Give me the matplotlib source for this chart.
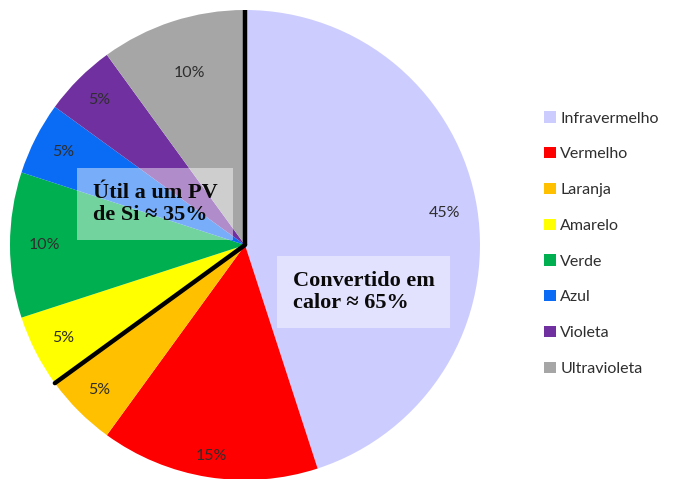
import numpy as np
import matplotlib
matplotlib.use("Agg")
import matplotlib.pyplot as plt
from matplotlib.patches import Patch

# Solar spectrum share by band
bands = ["Infravermelho", "Vermelho", "Laranja", "Amarelo",
         "Verde", "Azul", "Violeta", "Ultravioleta"]
shares = [45, 15, 5, 5, 10, 5, 5, 10]
colors = ["#ccccff", "#ff0000", "#ffc000", "#ffff00",
          "#00b050", "#0a6cf5", "#7030a0", "#a6a6a6"]
# radial position of each percentage label
label_radius = [0.86, 0.91, 0.875, 0.87, 0.855, 0.87, 0.875, 0.77]

heat_text = "Convertido em\ncalor ≈ 65%"
useful_text = "Útil a um PV\nde Si ≈ 35%"
split_share = sum(shares[:3])     # boundary between Laranja and Amarelo

W, H = 676, 479
fig = plt.figure(figsize=(W / 100, H / 100), dpi=100)
cx, cy, r = 245, 245, 235
ax = fig.add_axes([(cx - r) / W, (H - cy - r) / H, 2 * r / W, 2 * r / H])

wedges, _ = ax.pie(shares, colors=colors, startangle=90, counterclock=False,
                   radius=1.0, wedgeprops=dict(linewidth=0))

total = float(sum(shares))
cum = 0.0
for val, rad in zip(shares, label_radius):
    mid = 90 - 360 * (cum + val / 2) / total
    cum += val
    ang = np.deg2rad(mid)
    ax.text(rad * np.cos(ang), rad * np.sin(ang), f"{val}%",
            ha="center", va="center", fontsize=11.5, family="Lato", color="#2e2e2e")

# dividing lines: top edge and the Laranja/Amarelo boundary
ax.plot([0, 0], [0, 1.0], color="black", lw=3.2, solid_capstyle="butt", zorder=5)
ang = np.deg2rad(90 - 360 * split_share / total)
ax.plot([0, np.cos(ang)], [0, np.sin(ang)], color="black", lw=3.2,
        solid_capstyle="round", zorder=5)

box = dict(boxstyle="square,pad=0.7", facecolor="white", edgecolor="none", alpha=0.45)
ax.text(0.204, -0.2, heat_text, ha="left", va="center", fontsize=16,
        family="Liberation Serif", fontweight="bold", color="#0a0a0a",
        linespacing=1.1, bbox=box, zorder=6)
ax.text(-0.647, 0.174, useful_text, ha="left", va="center", fontsize=16,
        family="Liberation Serif", fontweight="bold", color="#0a0a0a",
        linespacing=1.1, bbox=box, zorder=6)

ax.set_xlim(-1, 1)
ax.set_ylim(-1, 1)
ax.set_aspect("equal")
ax.axis("off")

handles = [Patch(facecolor=c, edgecolor="none") for c in colors]
leg = fig.legend(handles, bands, loc="upper left", bbox_to_anchor=(530 / W, 1 - 97 / H),
                 frameon=False, prop=dict(family="Lato", size=11.5),
                 handlelength=0.7, handleheight=0.7, handletextpad=0.3,
                 labelspacing=1.35, labelcolor="#2e2e2e")

fig.savefig("out.png", dpi=100)
